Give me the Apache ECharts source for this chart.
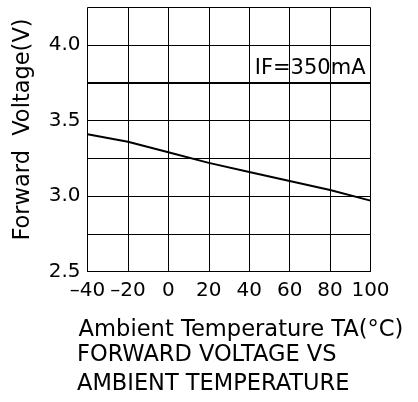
<!DOCTYPE html>
<html><head><meta charset="utf-8">
<script src="https://cdn.jsdelivr.net/npm/echarts@6/dist/echarts.min.js"></script>
<style>html,body{margin:0;padding:0;background:#fff}#c{width:418px;height:402px}</style>
</head><body><div id="c"></div>
<script>
const temperatures = [-40, -20, 0, 20, 40, 60, 80, 100];
const forwardVoltage = [3.41, 3.36, 3.29, 3.22, 3.16, 3.10, 3.04, 2.97];
const conditionLevel = [3.75];
const conditionLabel = 'IF=350mA';
const xTitle = 'Ambient Temperature TA(°C)';
const yTitle = 'Forward  Voltage(V)';
const chartTitle = ['FORWARD VOLTAGE VS', 'AMBIENT TEMPERATURE'];

const font = 'DejaVu Sans';
const chart = echarts.init(document.getElementById('c'), null, {renderer: 'canvas'});
chart.setOption({
  animation: false,
  backgroundColor: '#fff',
  title: [
    {text: chartTitle[0], left: 77, top: 344, padding: 0,
     textStyle: {fontFamily: font, fontSize: 22.5, fontWeight: 'normal', color: '#000'}},
    {text: chartTitle[1], left: 77, top: 373, padding: 0,
     textStyle: {fontFamily: font, fontSize: 22.5, fontWeight: 'normal', color: '#000'}}
  ],
  grid: {left: 87.5, right: 47.5, top: 7.5, bottom: 130.5, show: false},
  xAxis: {
    type: 'value', min: -40, max: 100, interval: 20,
    name: xTitle, nameLocation: 'middle', nameGap: 47,
    nameTextStyle: {fontFamily: font, fontSize: 22.6, color: '#000', padding: [0, 0, 0, 24]},
    axisLine: {show: true, lineStyle: {color: '#000', width: 1}},
    axisTick: {show: false},
    splitLine: {show: true, lineStyle: {color: '#000', width: 1}},
    axisLabel: {fontFamily: font, fontSize: 20, color: '#000', margin: 9,
      showMinLabel: true, showMaxLabel: true, hideOverlap: false, interval: 0,
      formatter: v => String(v).replace('-', '\u2013')}
  },
  yAxis: {
    type: 'value', min: 2.5, max: 4.25, interval: 0.25,
    name: yTitle, nameLocation: 'middle', nameGap: 53, nameRotate: 90,
    nameTextStyle: {fontFamily: font, fontSize: 22.5, color: '#000', padding: [0, 0, 0, 20]},
    axisLine: {show: true, lineStyle: {color: '#000', width: 1}},
    axisTick: {show: false},
    splitLine: {show: true, lineStyle: {color: '#000', width: 1}},
    axisLabel: {fontFamily: font, fontSize: 20, color: '#000', margin: 7,
      showMinLabel: true,
      formatter: v => (Math.abs(v * 2 - Math.round(v * 2)) < 1e-6 && v < 4.2) ? v.toFixed(1) : ''}
  },
  series: [{
    type: 'line',
    data: temperatures.map((t, i) => [t, forwardVoltage[i]]),
    symbol: 'none',
    lineStyle: {color: '#000', width: 2},
    markLine: {
      silent: true, symbol: 'none',
      lineStyle: {color: '#000', width: 2, type: 'solid'},
      label: {show: true, position: 'insideEndTop', formatter: conditionLabel,
        fontFamily: font, fontSize: 21, color: '#000', distance: [5, 4]},
      data: conditionLevel.map(v => ({yAxis: v}))
    }
  }]
});
</script></body></html>
